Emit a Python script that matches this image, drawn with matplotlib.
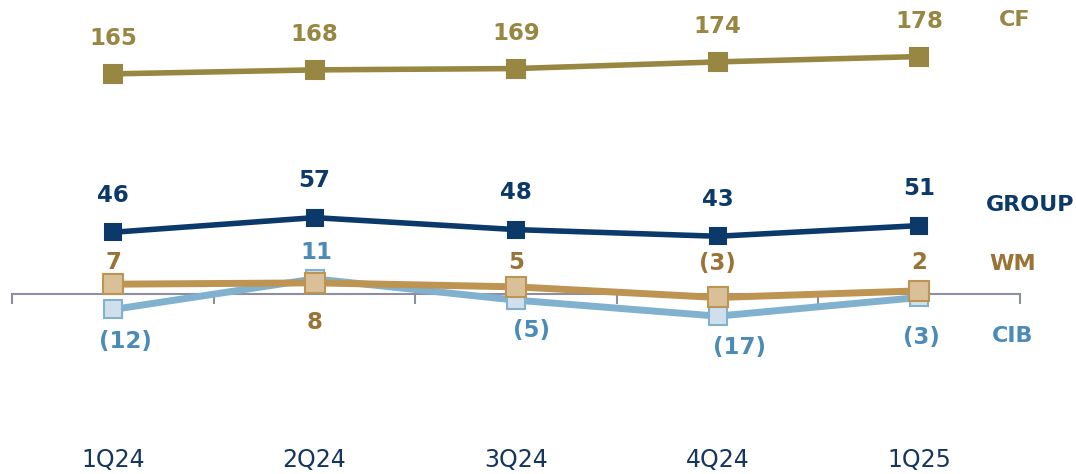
import matplotlib.pyplot as plt
import numpy as np

quarters = ['1Q24', '2Q24', '3Q24', '4Q24', '1Q25']
cf = [165, 168, 169, 174, 178]
group = [46, 57, 48, 43, 51]
wm = [7, 8, 5, -3, 2]
cib = [-12, 11, -5, -17, -3]


def fmt(v):
    return '(%d)' % -v if v < 0 else '%d' % v


fig = plt.figure(figsize=(10.76, 4.74), dpi=100)
ax = fig.add_axes([0, 0, 1, 1])
x = np.arange(len(quarters))

# series styles: line colour, marker face, marker edge, label colour, marker size, line width
styles = {
    'CIB': ('#80B2D0', '#CFE0EC', '#80B2D0', '#4A8BB8', 13.5, 5),
    'WM': ('#BE9452', '#DAC098', '#BE9452', '#9A7436', 14, 5),
    'GROUP': ('#0B3A6A', '#0B3A6A', '#0B3A6A', '#0B3A6A', 12, 4),
    'CF': ('#978743', '#978743', '#978743', '#978743', 13.5, 4),
}
series = {'CIB': cib, 'WM': wm, 'GROUP': group, 'CF': cf}

# label offsets in pixels (dx, dy) for each point
offsets = {
    'CF': [(0, 35), (0, 35), (0, 35), (0, 35), (0, 35)],
    'GROUP': [(0, 37), (0, 37), (0, 37), (0, 37), (0, 37)],
    'WM': [(0, 22), (0, -40), (0, 24), (0, 34), (0, 28)],
    'CIB': [(12, -32), (2, 26), (15, -30), (22, -31), (2, -40)],
}

for name in ['CIB', 'WM', 'GROUP', 'CF']:
    lc, mf, me, tc, ms, lw = styles[name]
    vals = series[name]
    ax.plot(x, vals, color=lc, lw=lw, marker='s', ms=ms, mfc=mf, mec=me,
            mew=1.5, zorder=3, solid_joinstyle='round')
    for i, v in enumerate(vals):
        dx, dy = offsets[name][i]
        ax.annotate(fmt(v), (x[i], v), xytext=(dx, dy), textcoords='offset pixels',
                    ha='center', va='center', fontsize=16.5, fontweight='bold',
                    color=tc, zorder=5)

# series names on the right
names_y = {'CF': 20, 'GROUP': 205, 'WM': 264, 'CIB': 336}
names_x = {'CF': 1015, 'GROUP': 1030, 'WM': 1013, 'CIB': 1013}
for name in names_y:
    fig.text(names_x[name] / 1076, 1 - names_y[name] / 474, name,
             ha='center', va='center', fontsize=16, fontweight='bold',
             color=styles[name][3])

ax.set_xlim(-0.561, 4.779)
ax.set_ylim(-135.6, 220.5)

for s in ['top', 'right', 'left']:
    ax.spines[s].set_visible(False)
ax.spines['bottom'].set_position(('data', 0))
ax.spines['bottom'].set_bounds(-0.5, 4.5)
ax.spines['bottom'].set_color('#8C8FA0')
ax.spines['bottom'].set_linewidth(1.5)
ax.set_xticks(np.arange(-0.5, 5, 1))
ax.set_xticklabels([])
ax.tick_params(axis='x', direction='out', length=7, width=1.5, color='#8C8FA0')
ax.set_yticks([])

for i, q in enumerate(quarters):
    ax.text(x[i], 1 - 460 / 474, q, transform=ax.get_xaxis_transform(),
            ha='center', va='center', fontsize=17, color='#14365F',
            family='DejaVu Sans')

fig.savefig('out.png', dpi=100)
